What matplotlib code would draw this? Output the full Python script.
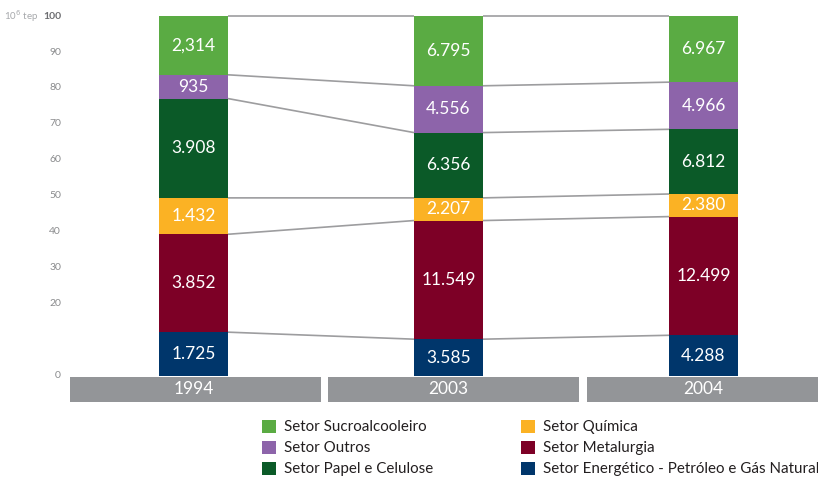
import matplotlib
matplotlib.use("Agg")
import matplotlib.pyplot as plt
from matplotlib.patches import Rectangle, Patch
import numpy as np

plt.rcParams['font.family'] = ['Lato', 'DejaVu Sans']

years = ['1994', '2003', '2004']
sectors = ['Setor Energético - Petróleo e Gás Natural', 'Setor Metalurgia', 'Setor Química',
           'Setor Papel e Celulose', 'Setor Outros', 'Setor Sucroalcooleiro']
energetico = [1.725, 3.585, 4.288]
metalurgia = [3.852, 11.549, 12.499]
quimica = [1.432, 2.207, 2.380]
papel = [3.908, 6.356, 6.812]
outros = [0.935, 4.556, 4.966]
sucro = [2.314, 6.795, 6.967]
labels_energetico = ['1.725', '3.585', '4.288']
labels_metalurgia = ['3.852', '11.549', '12.499']
labels_quimica = ['1.432', '2.207', '2.380']
labels_papel = ['3.908', '6.356', '6.812']
labels_outros = ['935', '4.556', '4.966']
labels_sucro = ['2,314', '6.795', '6.967']
yticks = [0, 20, 30, 40, 50, 60, 70, 80, 90, 100]

colors = ['#00366b', '#7d0026', '#fbb224', '#0b5a28', '#8d64aa', '#5aab43']
series = [energetico, metalurgia, quimica, papel, outros, sucro]
series_labels = [labels_energetico, labels_metalurgia, labels_quimica, labels_papel, labels_outros, labels_sucro]

W, H = 818, 478
fig = plt.figure(figsize=(W / 100, H / 100), dpi=100)
# axes spans full width; pixel mapping: x_px = 193.5 + 255*x ; y_px(top) = 376 - 3.6*y
ax_top_px, ax_bot_px = 10, 405
ax = fig.add_axes([0, (H - ax_bot_px) / H, 1, (ax_bot_px - ax_top_px) / H])
ax.set_xlim(-193.5 / 255, (W - 193.5) / 255)
ax.set_ylim(-(ax_bot_px - 376) / 3.6, 100 + (16 - ax_top_px) / 3.6)
ax.axis('off')

x = np.arange(len(years))
data = np.array(series, dtype=float)
pct = data / data.sum(axis=0) * 100
bottoms = np.vstack([np.zeros(len(years)), np.cumsum(pct, axis=0)[:-1]])
bw = 69 / 255

for k in range(len(series)):
    ax.bar(x, pct[k], bw, bottom=bottoms[k], color=colors[k], linewidth=0, zorder=3)
    for i in range(len(years)):
        ax.text(x[i], bottoms[k][i] + pct[k][i] / 2, series_labels[k][i], color='white',
                ha='center', va='center', fontsize=12.5, zorder=4)

# connecting lines between bars at each boundary
tops = np.cumsum(pct, axis=0)
for k in range(len(series)):
    for i in range(len(years) - 1):
        ax.plot([x[i] + bw / 2, x[i + 1] - bw / 2], [tops[k][i], tops[k][i + 1]],
                color='#9d9d9f', lw=1.2, zorder=2, solid_capstyle='butt')

# gray year bands
band_edges = [(70, 321), (328, 579), (587, 830)]
for i, (l, r) in enumerate(band_edges):
    xl = (l - 193.5) / 255
    xr = (r - 193.5) / 255
    ax.add_patch(Rectangle((xl, -(402 - 376) / 3.6), xr - xl, (402 - 376) / 3.6 - 0.3,
                           facecolor='#939598', edgecolor='none', zorder=1, clip_on=True))
    ax.text(x[i], -(389 - 376) / 3.6, years[i], color='white', ha='center', va='center',
            fontsize=12.5, zorder=4)

# y tick labels
xt = (61 - 193.5) / 255
for t in yticks:
    bold = t == 100
    ax.text(xt, t, str(t), ha='right', va='center', fontsize=7.5,
            color='#6d6e71' if bold else '#8a8b8d', fontweight='bold' if bold else 'normal')
ax.text((38 - 193.5) / 255, 100, '10$^6$ tep', ha='right', va='center', fontsize=7,
        color='#a7a9ac')

# legend
order = [5, 4, 3, 2, 1, 0]
handles = [Patch(facecolor=colors[k], edgecolor='none', label=sectors[k]) for k in order]
fig.legend(handles=handles, ncol=2, loc='upper left', bbox_to_anchor=(254 / W, 1 - 412 / H),
           frameon=False, fontsize=10.9, handlelength=0.95, handleheight=0.95, handletextpad=0.5,
           labelspacing=0.42, columnspacing=5.8, borderpad=0, labelcolor='#231f20')

fig.savefig('out.png', dpi=100)
